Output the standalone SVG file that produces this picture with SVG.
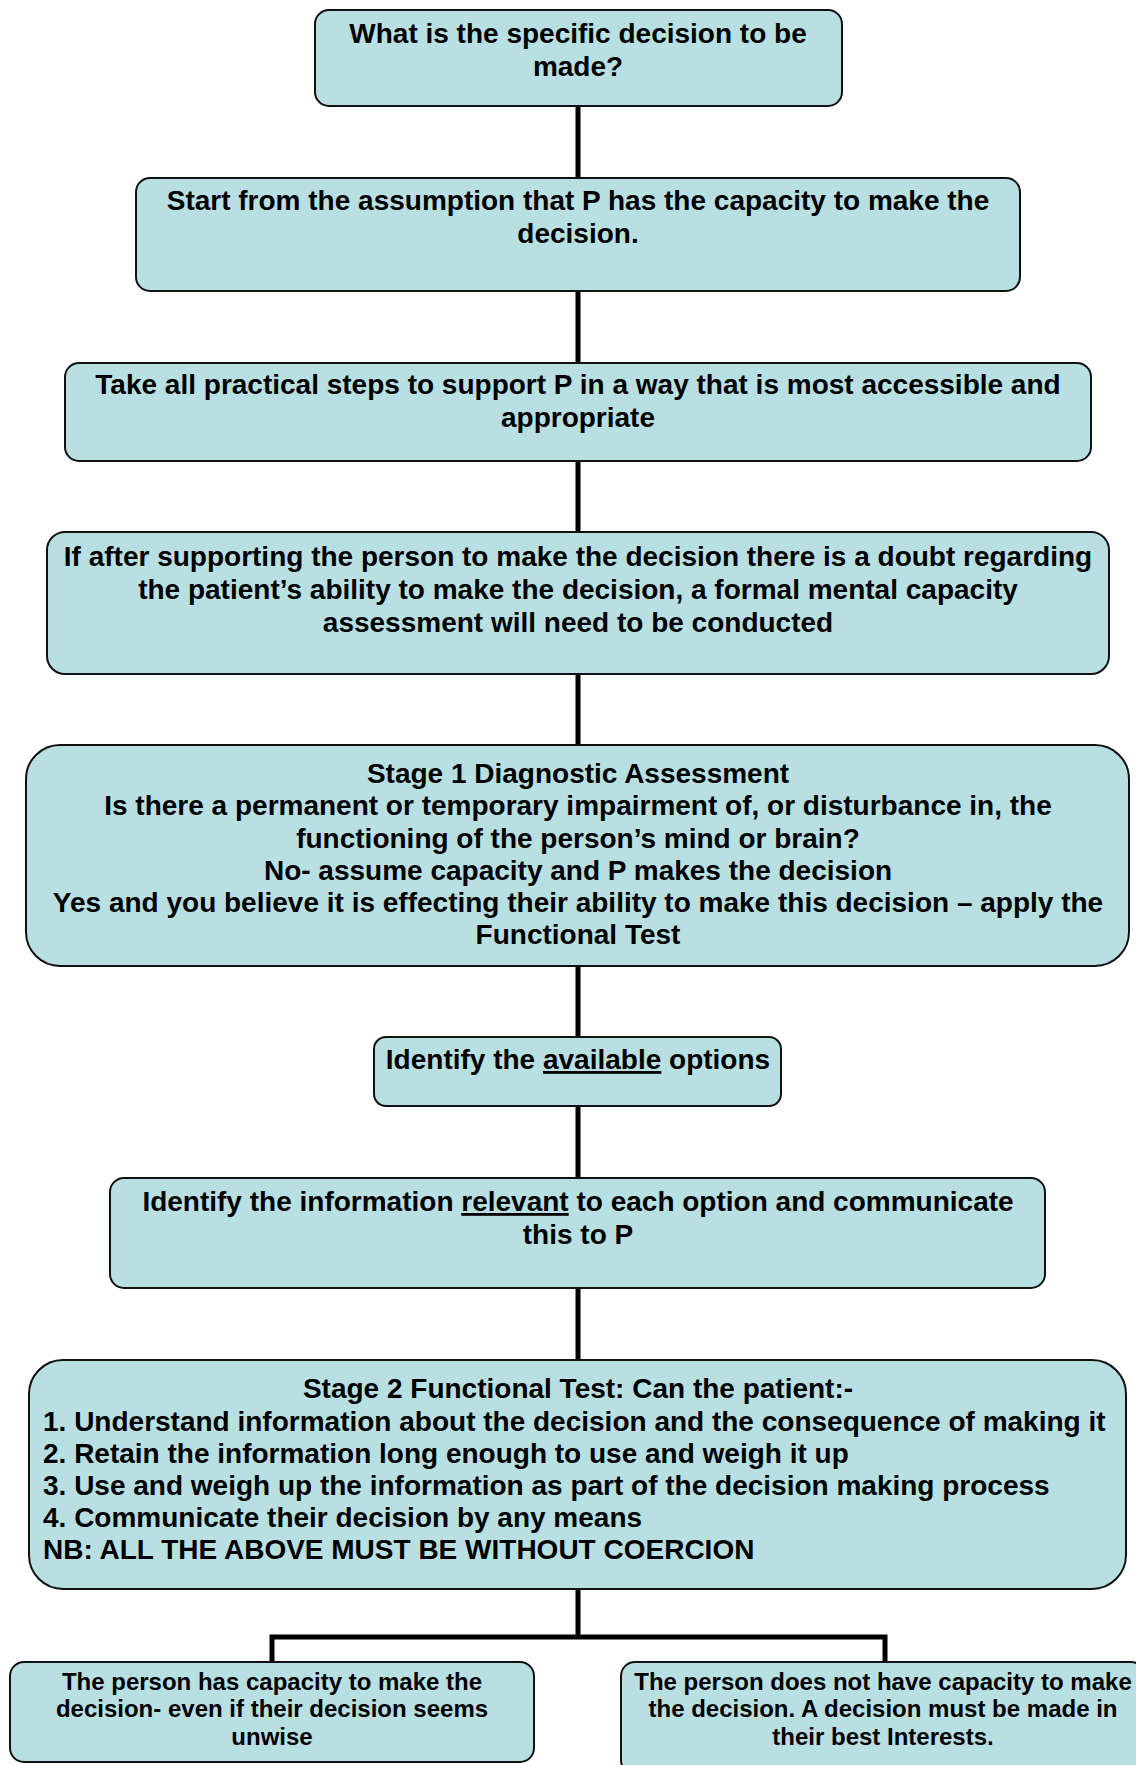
<svg xmlns="http://www.w3.org/2000/svg" width="1136" height="1765" viewBox="0 0 1136 1765">
<style>
.box{fill:#b8e0e3;stroke:#111;stroke-width:2}
.t{font-family:"Liberation Sans",Arial,sans-serif;font-weight:bold;font-size:28px;fill:#000;text-anchor:middle}
.l{text-anchor:start}
.s{font-size:24px}
.c{stroke:#000;stroke-width:5;fill:none}
.u{text-decoration:underline}
</style>
<rect width="1136" height="1765" fill="#fff"/>
<g id="connectors">
<line class="c" x1="578" y1="106" x2="578" y2="178"/>
<line class="c" x1="578" y1="291" x2="578" y2="363"/>
<line class="c" x1="578" y1="461" x2="578" y2="532"/>
<line class="c" x1="578" y1="674" x2="578" y2="745"/>
<line class="c" x1="578" y1="966" x2="578" y2="1037"/>
<line class="c" x1="578" y1="1106" x2="578" y2="1178"/>
<line class="c" x1="578" y1="1288" x2="578" y2="1360"/>
<line class="c" x1="578" y1="1589" x2="578" y2="1637"/>
<polyline class="c" points="272,1662 272,1637 885,1637 885,1662"/>
</g>
<g id="n1">
<rect class="box" x="315" y="10" width="527" height="96" rx="14"/>
<text class="t" x="578" y="43">What is the specific decision to be</text>
<text class="t" x="578" y="76">made?</text>
</g>
<g id="n2">
<rect class="box" x="136" y="178" width="884" height="113" rx="14"/>
<text class="t" x="578" y="210">Start from the assumption that P has the capacity to make the</text>
<text class="t" x="578" y="243">decision.</text>
</g>
<g id="n3">
<rect class="box" x="65" y="363" width="1026" height="98" rx="14"/>
<text class="t" x="578" y="394">Take all practical steps to support P in a way that is most accessible and</text>
<text class="t" x="578" y="427">appropriate</text>
</g>
<g id="n4">
<rect class="box" x="47" y="532" width="1062" height="142" rx="18"/>
<text class="t" x="578" y="566">If after supporting the person to make the decision there is a doubt regarding</text>
<text class="t" x="578" y="599">the patient’s ability to make the decision, a formal mental capacity</text>
<text class="t" x="578" y="632">assessment will need to be conducted</text>
</g>
<g id="n5">
<rect class="box" x="26" y="745" width="1103" height="221" rx="34"/>
<text class="t" x="578" y="783">Stage 1 Diagnostic Assessment</text>
<text class="t" x="578" y="815">Is there a permanent or temporary impairment of, or disturbance in, the</text>
<text class="t" x="578" y="848">functioning of the person’s mind or brain?</text>
<text class="t" x="578" y="880">No- assume capacity and P makes the decision</text>
<text class="t" x="578" y="912">Yes and you believe it is effecting their ability to make this decision – apply the</text>
<text class="t" x="578" y="944">Functional Test</text>
</g>
<g id="n6">
<rect class="box" x="374" y="1037" width="407" height="69" rx="12"/>
<text class="t" x="578" y="1069">Identify the <tspan class="u">available</tspan> options</text>
</g>
<g id="n7">
<rect class="box" x="110" y="1178" width="935" height="110" rx="14"/>
<text class="t" x="578" y="1211">Identify the information <tspan class="u">relevant</tspan> to each option and communicate</text>
<text class="t" x="578" y="1244">this to P</text>
</g>
<g id="n8">
<rect class="box" x="29" y="1360" width="1097" height="229" rx="34"/>
<text class="t" x="578" y="1398">Stage 2 Functional Test: Can the patient:-</text>
<text class="t l" x="43" y="1431">1. Understand information about the decision and the consequence of making it</text>
<text class="t l" x="43" y="1463">2. Retain the information long enough to use and weigh it up</text>
<text class="t l" x="43" y="1495">3. Use and weigh up the information as part of the decision making process</text>
<text class="t l" x="43" y="1527">4. Communicate their decision by any means</text>
<text class="t l" x="43" y="1559">NB: ALL THE ABOVE MUST BE WITHOUT COERCION</text>
</g>
<g id="n9">
<rect class="box" x="10" y="1662" width="524" height="100" rx="14"/>
<text class="t s" x="272" y="1690">The person has capacity to make the</text>
<text class="t s" x="272" y="1717">decision- even if their decision seems</text>
<text class="t s" x="272" y="1745">unwise</text>
</g>
<g id="n10">
<rect class="box" x="621" y="1662" width="524" height="112" rx="14"/>
<text class="t s" x="883" y="1690">The person does not have capacity to make</text>
<text class="t s" x="883" y="1717">the decision. A decision must be made in</text>
<text class="t s" x="883" y="1745">their best Interests.</text>
</g>
</svg>
